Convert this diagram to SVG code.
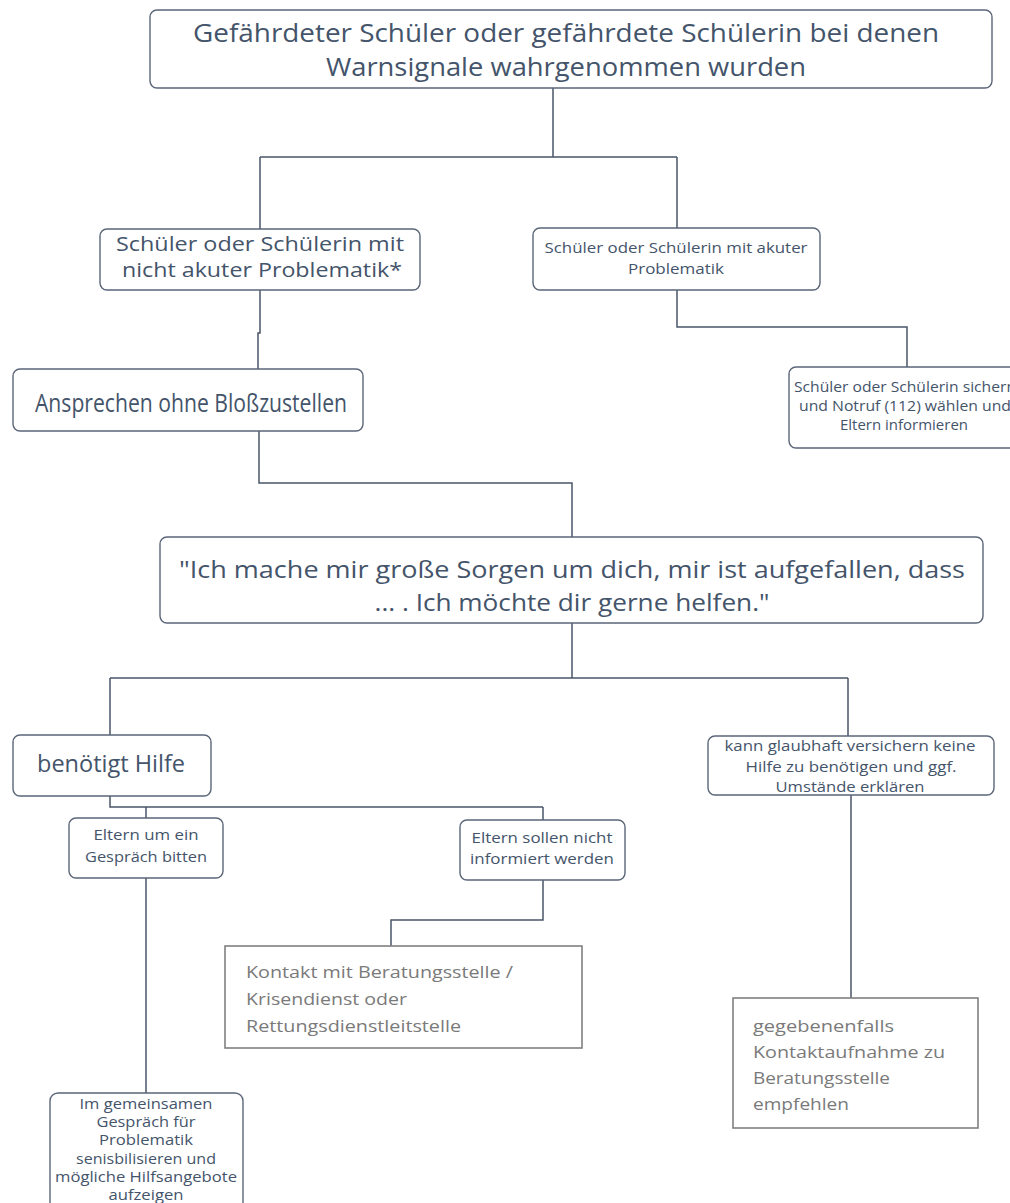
<svg xmlns="http://www.w3.org/2000/svg" width="1010" height="1203" viewBox="0 0 1010 1203">
<style>
.n{fill:#ffffff;stroke:#5b6679;stroke-width:1.4}
.g{fill:#ffffff;stroke:#808080;stroke-width:1.6}
.c{fill:none;stroke:#4a5568;stroke-width:1.5}
text{font-family:"Open Sans","Noto Sans","DejaVu Sans",sans-serif;fill:#44546a}
.m{text-anchor:middle}
.gt{fill:#7a7a7a}
</style>
<rect width="1010" height="1203" fill="#ffffff"/>
<g id="connectors">
<path class="c" d="M553 88V157M260 157H677M260 157V229M677 157V228"/>
<path class="c" d="M677 290V327H907V367"/>
<path class="c" d="M260 290V333H258V369"/>
<path class="c" d="M259 431V483H572V537"/>
<path class="c" d="M572 623V678M110 678H848M110 678V735M848 678V736"/>
<path class="c" d="M110 796V807H543M146 807V818M543 807V820"/>
<path class="c" d="M543 880V920H391V946"/>
<path class="c" d="M851 795V998"/>
<path class="c" d="M146 878V1093"/>
</g>
<g id="n1">
<rect class="n" x="150" y="10" width="842" height="78" rx="7"/>
<text class="m" x="566" y="42" font-size="25" textLength="746" lengthAdjust="spacingAndGlyphs">Gefährdeter Schüler oder gefährdete Schülerin bei denen</text>
<text class="m" x="566" y="76" font-size="25" textLength="480" lengthAdjust="spacingAndGlyphs">Warnsignale wahrgenommen wurden</text>
</g>
<g id="n2">
<rect class="n" x="100" y="229" width="320" height="61" rx="7"/>
<text class="m" x="260" y="251" font-size="20" textLength="288" lengthAdjust="spacingAndGlyphs">Schüler oder Schülerin mit</text>
<text class="m" x="262" y="277" font-size="20" textLength="280" lengthAdjust="spacingAndGlyphs">nicht akuter Problematik*</text>
</g>
<g id="n3">
<rect class="n" x="533" y="228" width="287" height="62" rx="7"/>
<text class="m" x="676" y="253" font-size="15" textLength="263" lengthAdjust="spacingAndGlyphs">Schüler oder Schülerin mit akuter</text>
<text class="m" x="676" y="274" font-size="15" textLength="96" lengthAdjust="spacingAndGlyphs">Problematik</text>
</g>
<g id="n4">
<rect class="n" x="789" y="367" width="240" height="81" rx="7"/>
<text class="m" x="905" y="392" font-size="14" textLength="222" lengthAdjust="spacingAndGlyphs">Schüler oder Schülerin sichern</text>
<text class="m" x="905" y="411" font-size="14" textLength="212" lengthAdjust="spacingAndGlyphs">und Notruf (112) wählen und</text>
<text class="m" x="904" y="430" font-size="14" textLength="128" lengthAdjust="spacingAndGlyphs">Eltern informieren</text>
</g>
<g id="n5">
<rect class="n" x="13" y="369" width="350" height="62" rx="7"/>
<text x="35" y="412" font-size="26" textLength="312" lengthAdjust="spacingAndGlyphs">Ansprechen ohne Bloßzustellen</text>
</g>
<g id="n6">
<rect class="n" x="160" y="537" width="823" height="86" rx="7"/>
<text class="m" x="572" y="578" font-size="24" textLength="786" lengthAdjust="spacingAndGlyphs">"Ich mache mir große Sorgen um dich, mir ist aufgefallen, dass</text>
<text class="m" x="572" y="611" font-size="24" textLength="395" lengthAdjust="spacingAndGlyphs">... . Ich möchte dir gerne helfen."</text>
</g>
<g id="n7">
<rect class="n" x="13" y="735" width="198" height="61" rx="7"/>
<text x="37" y="772" font-size="23" textLength="148" lengthAdjust="spacingAndGlyphs">benötigt Hilfe</text>
</g>
<g id="n8">
<rect class="n" x="708" y="736" width="286" height="59" rx="7"/>
<text class="m" x="850" y="751" font-size="15" textLength="251" lengthAdjust="spacingAndGlyphs">kann glaubhaft versichern keine</text>
<text class="m" x="851" y="772" font-size="15" textLength="211" lengthAdjust="spacingAndGlyphs">Hilfe zu benötigen und ggf.</text>
<text class="m" x="850" y="792" font-size="15" textLength="149" lengthAdjust="spacingAndGlyphs">Umstände erklären</text>
</g>
<g id="n9">
<rect class="n" x="69" y="818" width="154" height="60" rx="7"/>
<text class="m" x="146" y="840" font-size="14.5" textLength="105" lengthAdjust="spacingAndGlyphs">Eltern um ein</text>
<text class="m" x="146" y="862" font-size="14.5" textLength="122" lengthAdjust="spacingAndGlyphs">Gespräch bitten</text>
</g>
<g id="n10">
<rect class="n" x="460" y="820" width="165" height="60" rx="7"/>
<text class="m" x="542" y="843" font-size="14.5" textLength="141" lengthAdjust="spacingAndGlyphs">Eltern sollen nicht</text>
<text class="m" x="542" y="864" font-size="14.5" textLength="144" lengthAdjust="spacingAndGlyphs">informiert werden</text>
</g>
<g id="n11">
<rect class="g" x="225" y="946" width="357" height="102"/>
<text class="gt" x="246" y="978" font-size="16" textLength="267" lengthAdjust="spacingAndGlyphs">Kontakt mit Beratungsstelle /</text>
<text class="gt" x="246" y="1005" font-size="16" textLength="161" lengthAdjust="spacingAndGlyphs">Krisendienst oder</text>
<text class="gt" x="246" y="1032" font-size="16" textLength="215" lengthAdjust="spacingAndGlyphs">Rettungsdienstleitstelle</text>
</g>
<g id="n12">
<rect class="g" x="733" y="998" width="245" height="130"/>
<text class="gt" x="753" y="1032" font-size="16" textLength="141" lengthAdjust="spacingAndGlyphs">gegebenenfalls</text>
<text class="gt" x="753" y="1058" font-size="16" textLength="192" lengthAdjust="spacingAndGlyphs">Kontaktaufnahme zu</text>
<text class="gt" x="753" y="1084" font-size="16" textLength="137" lengthAdjust="spacingAndGlyphs">Beratungsstelle</text>
<text class="gt" x="753" y="1110" font-size="16" textLength="96" lengthAdjust="spacingAndGlyphs">empfehlen</text>
</g>
<g id="n13">
<rect class="n" x="50" y="1093" width="193" height="130" rx="8"/>
<text class="m" x="146" y="1109" font-size="14" textLength="133" lengthAdjust="spacingAndGlyphs">Im gemeinsamen</text>
<text class="m" x="146" y="1127" font-size="14" textLength="99" lengthAdjust="spacingAndGlyphs">Gespräch für</text>
<text class="m" x="146" y="1145" font-size="14" textLength="94" lengthAdjust="spacingAndGlyphs">Problematik</text>
<text class="m" x="146" y="1164" font-size="14" textLength="140" lengthAdjust="spacingAndGlyphs">senisbilisieren und</text>
<text class="m" x="146" y="1182" font-size="14" textLength="182" lengthAdjust="spacingAndGlyphs">mögliche Hilfsangebote</text>
<text class="m" x="146" y="1200" font-size="14" textLength="75" lengthAdjust="spacingAndGlyphs">aufzeigen</text>
</g>
</svg>
